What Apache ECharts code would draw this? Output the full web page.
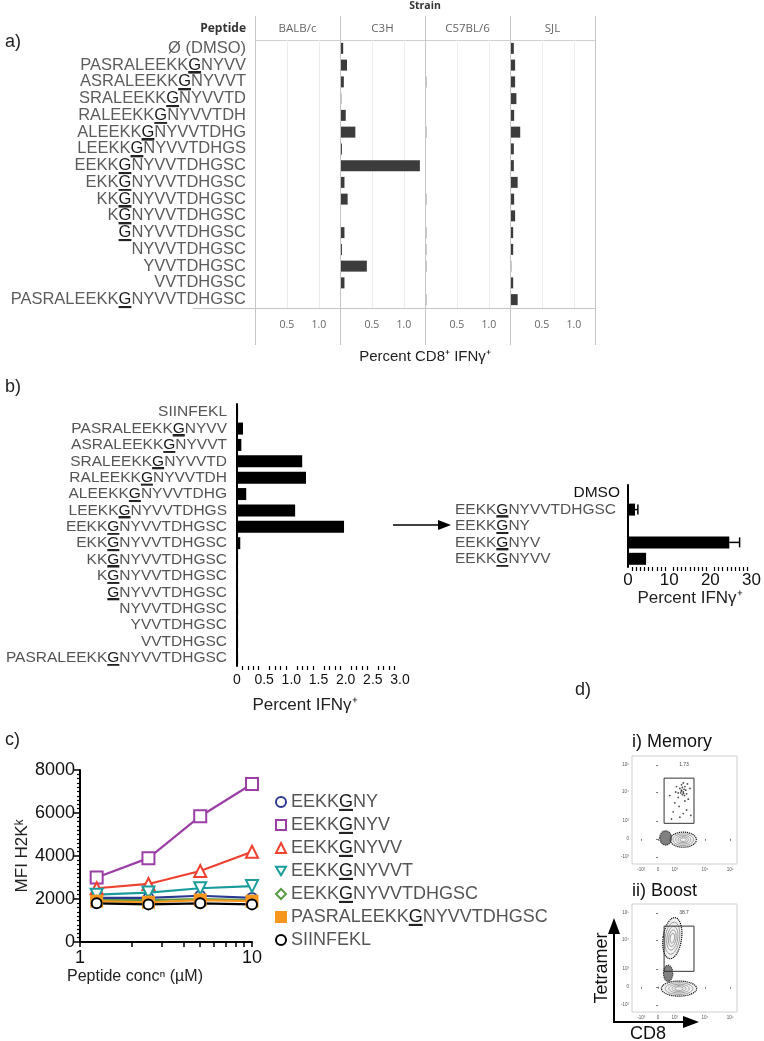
<!DOCTYPE html>
<html><head><meta charset="utf-8">
<script src="https://cdn.jsdelivr.net/npm/echarts@6/dist/echarts.min.js"></script>
<style>html,body{margin:0;padding:0;background:#fff}#c{width:764px;height:1041px}</style>
</head><body><div id="c"></div>
<script>
// ---------- Panel a data ----------
const peptidesA = ['Ø (DMSO)','PASRALEEKKGNYVV','ASRALEEKKGNYVVT','SRALEEKKGNYVVTD','RALEEKKGNYVVTDH','ALEEKKGNYVVTDHG','LEEKKGNYVVTDHGS','EEKKGNYVVTDHGSC','EKKGNYVVTDHGSC','KKGNYVVTDHGSC','KGNYVVTDHGSC','GNYVVTDHGSC','NYVVTDHGSC','YVVTDHGSC','VVTDHGSC','PASRALEEKKGNYVVTDHGSC'];
const strains = ['BALB/c','C3H','C57BL/6','SJL'];
const pctBALBc = [0,0,0,0,0,0,0,0,0,0,0,0,0,0,0,0];
const pctC3H   = [0.05,0.11,0.06,0.02,0.09,0.24,0.03,1.25,0.07,0.12,0.005,0.07,0.03,0.42,0.07,0];
const pctC57   = [0,0,0.02,0,0,0.02,0,0,0,0.02,0,0.02,0.02,0.02,0,0.02];
const pctSJL   = [0.06,0.08,0.08,0.10,0.065,0.16,0.06,0.06,0.12,0.065,0.08,0.05,0.05,0.02,0.05,0.12];
const aTickLabels = [0.5, 1.0];

// ---------- Panel b data ----------
const peptidesB = ['SIINFEKL','PASRALEEKKGNYVV','ASRALEEKKGNYVVT','SRALEEKKGNYVVTD','RALEEKKGNYVVTDH','ALEEKKGNYVVTDHG','LEEKKGNYVVTDHGS','EEKKGNYVVTDHGSC','EKKGNYVVTDHGSC','KKGNYVVTDHGSC','KGNYVVTDHGSC','GNYVVTDHGSC','NYVVTDHGSC','YVVTDHGSC','VVTDHGSC','PASRALEEKKGNYVVTDHGSC'];
const ifnB = [0.02,0.11,0.08,1.2,1.27,0.17,1.07,1.97,0.06,0.02,0.02,0.02,0.02,0.02,0.02,0.02];
const peptidesB2 = ['DMSO','EEKKGNYVVTDHGSC','EEKKGNY','EEKKGNYV','EEKKGNYVV'];
const ifnB2 = [0, 1.7, 0, 24.6, 4.4];
const ifnB2Err = [0, 0.7, 0, 2.5, 0];

// ---------- Panel c data ----------
const concentrations = [1.25, 2.5, 5, 10];
const lineNames = ['EEKKGNY','EEKKGNYV','EEKKGNYVV','EEKKGNYVVT','EEKKGNYVVTDHGSC','PASRALEEKKGNYVVTDHGSC','SIINFEKL'];
const mfiEEKKGNY = [2050, 2050, 2150, 2050];
const mfiEEKKGNYV = [3000, 3900, 5850, 7350];
const mfiEEKKGNYVV = [2500, 2700, 3300, 4200];
const mfiEEKKGNYVVT = [2200, 2300, 2500, 2600];
const mfiEEKKGNYVVTDHGSC = [1950, 1950, 2000, 1950];
const mfiPASRA = [1900, 1850, 1950, 1900];
const mfiSIINFEKL = [1800, 1750, 1800, 1750];

// ---------- Panel d data (display units of biexponential axes) ----------
const flowXTicks = [-1, 0, 1, 2.8, 4.3];
const flowYTicks = [-1, 0, 1, 2.6, 4.1];
const flowTickLabels = ['-10³','0','10³','10⁴','10⁵'];
const gateMemory = [[0.36, 0.86, 2.14, 3.37]];
const gateBoost = [[0.36, 0.86, 2.14, 3.37]];
const gateFreq = ['1.73', '38.7'];
// [cx, cy, rx, ry, rotationDeg, contourLevels, dense]
const popsMemory = [[1.5,-0.05,0.78,0.42,0,5,0],[0.45,0.05,0.35,0.4,0,1,1]];
const popsBoost = [[0.85,2.7,0.55,1.15,-8,5,0],[1.25,-0.1,1.05,0.42,0,5,0],[0.6,0.75,0.28,0.45,0,1,1]];
const eventsMemory = [[1.4,2.7],[1.5,2.6],[1.3,2.8],[1.6,2.9],[1.45,2.45],[1.2,2.3],[1.7,2.5],[1.55,2.75],[1.35,2.55],[1.65,2.7],[1.0,2.0],[1.8,2.2],[0.9,1.5],[1.3,1.2],[1.7,1.6],[1.1,2.9],[1.5,3.1],[0.7,2.4],[1.9,2.8],[1.25,1.8],[1.6,2.1],[1.4,3.0],[1.75,3.05],[1.05,2.6],[1.5,1.4],[0.8,1.1],[1.95,1.3],[1.2,2.55],[1.45,2.85],[1.58,2.4],[1.38,2.65],[1.52,2.52]];

const chart = echarts.init(document.getElementById('c'), null, {renderer:'canvas', width:764, height:1041});
const FONT = '"Liberation Sans", Arial, sans-serif';
const HFONT = '"Open Sans", sans-serif';
const ulGrad = new echarts.graphic.LinearGradient(0,0,0,1,[
  {offset:0,color:'rgba(0,0,0,0)'},{offset:0.86,color:'rgba(0,0,0,0)'},
  {offset:0.87,color:'#222'},{offset:1,color:'#222'}]);
function ul(s){ return s.replace(/G(?=N)/, '{u|G}'); }
function richU(size){ return { u:{fontSize:size, fontFamily:FONT, color:'#1a1a1a', backgroundColor:ulGrad} }; }

const grid = [], xAxis = [], yAxis = [], series = [], graphic = [];

// ---------- Panel a ----------
const aLeft = [255,340,425,510];
const aVals = [pctBALBc, pctC3H, pctC57, pctSJL];
for (let i=0;i<4;i++){
  grid.push({left:aLeft[i], top:40, width:85, height:268});
  xAxis.push({type:'value', gridIndex:i, min:0, max:1.33, interval:0.5,
    axisLine:{show:false}, axisTick:{show:false},
    splitLine:{show:true, lineStyle:{color:'#ececec'}},
    axisLabel:{formatter:v=>aTickLabels.includes(v)?v.toFixed(1):'', fontSize:10.5, color:'#666', fontFamily:HFONT, margin:12, showMaxLabel:false}});
  yAxis.push({type:'category', gridIndex:i, data:peptidesA, inverse:true,
    axisLine:{show:false}, axisTick:{show:false},
    axisLabel:{show:i===0, interval:0, formatter:ul, fontSize:16.5, color:'#5c5c5c', fontFamily:FONT, margin:9, rich:richU(16.5)}});
  series.push({type:'bar', xAxisIndex:i, yAxisIndex:i, data:aVals[i], barWidth:11, itemStyle:{color:'#3c3c3c'}, silent:true});
}
const sepX = [255,340,425,510,595];
sepX.forEach(x=>graphic.push({type:'line', shape:{x1:x+0.5,y1:16,x2:x+0.5,y2:345}, style:{stroke:'#c4c4c4', lineWidth:1}, z:10}));
graphic.push({type:'line', shape:{x1:255,y1:40.5,x2:595,y2:40.5}, style:{stroke:'#d0d0d0', lineWidth:1}});
graphic.push({type:'line', shape:{x1:193,y1:308.5,x2:595,y2:308.5}, style:{stroke:'#c4c4c4', lineWidth:1}});
strains.forEach((s,i)=>graphic.push({type:'text', x:aLeft[i]+42.5, y:29, style:{text:s, fill:'#666', font:'11.5px '+HFONT, align:'center', verticalAlign:'middle'}}));
graphic.push({type:'text', x:246, y:29, style:{text:'Peptide', fill:'#333', font:'bold 12px '+HFONT, align:'right', verticalAlign:'middle'}});
graphic.push({type:'text', x:425, y:6, style:{text:'Strain', fill:'#333', font:'bold 10.5px '+HFONT, align:'center', verticalAlign:'middle'}});
graphic.push({type:'text', x:425, y:357, style:{text:'Percent CD8⁺ IFNγ⁺', fill:'#222', font:'15px '+FONT, align:'center', verticalAlign:'middle'}});
graphic.push({type:'text', x:5, y:42, style:{text:'a)', fill:'#222', font:'18px '+FONT, align:'left', verticalAlign:'middle'}});

// ---------- Panel b left ----------
grid.push({left:237, top:404, width:163, height:262});
xAxis.push({type:'value', gridIndex:4, min:0, max:3, interval:0.5,
  axisLine:{lineStyle:{color:'#000', width:2}}, axisTick:{length:6, lineStyle:{color:'#000', width:1.5}},
  minorTick:{show:true, splitNumber:5, length:4, lineStyle:{color:'#000', width:1.2}},
  splitLine:{show:false},
  axisLabel:{formatter:v=>v===0?'0':v.toFixed(1), fontSize:14, color:'#111', fontFamily:FONT, margin:7}});
yAxis.push({type:'category', gridIndex:4, data:peptidesB, inverse:true,
  axisLine:{lineStyle:{color:'#000', width:2}}, axisTick:{length:6, alignWithLabel:true, interval:0, lineStyle:{color:'#000', width:2}},
  axisLabel:{interval:0, formatter:ul, fontSize:15.5, color:'#555', fontFamily:FONT, margin:10, rich:richU(15.5)}});
series.push({type:'bar', xAxisIndex:4, yAxisIndex:4, data:ifnB, barWidth:12, itemStyle:{color:'#000'}, silent:true});
graphic.push({type:'text', x:305, y:705, style:{text:'Percent IFNγ⁺', fill:'#222', font:'17px '+FONT, align:'center', verticalAlign:'middle'}});
graphic.push({type:'text', x:5, y:387, style:{text:'b)', fill:'#222', font:'18px '+FONT, align:'left', verticalAlign:'middle'}});
graphic.push({type:'line', shape:{x1:393,y1:525,x2:440,y2:525}, style:{stroke:'#000', lineWidth:1.5}});
graphic.push({type:'polygon', shape:{points:[[438,520],[451,525],[438,530]]}, style:{fill:'#000'}});

// ---------- Panel b right ----------
grid.push({left:628, top:485, width:127, height:82});
xAxis.push({type:'value', gridIndex:5, min:0, max:30, interval:10,
  axisLine:{lineStyle:{color:'#000', width:2}}, axisTick:{length:6, lineStyle:{color:'#000', width:1.5}},
  minorTick:{show:true, splitNumber:10, length:4, lineStyle:{color:'#000', width:1.2}},
  splitLine:{show:false},
  axisLabel:{fontSize:17, color:'#111', fontFamily:FONT, margin:5}});
const richB2 = richU(15.5); richB2.d = {width:165, align:'right', color:'#111', fontSize:15.5, fontFamily:FONT};
yAxis.push({type:'category', gridIndex:5, data:peptidesB2, inverse:true,
  axisLine:{lineStyle:{color:'#000', width:2}}, axisTick:{length:6, alignWithLabel:true, interval:0, lineStyle:{color:'#000', width:2}},
  axisLabel:{interval:0, align:'left', formatter:v=>v==='DMSO'?'{d|DMSO}':ul(v), fontSize:15.5, color:'#555', fontFamily:FONT, margin:173, rich:richB2}});
series.push({type:'bar', xAxisIndex:5, yAxisIndex:5, data:ifnB2, barWidth:12, itemStyle:{color:'#000'}, silent:true});
series.push({type:'custom', xAxisIndex:5, yAxisIndex:5, z:5, silent:true,
  data: ifnB2.map((v,i)=>[v, ifnB2Err[i], i]),
  encode:{x:0, y:2},
  renderItem:(p, api)=>{
    const v = api.value(0), e = api.value(1), idx = api.value(2);
    if (!(e>0)) return null;
    const p0 = api.coord([v, idx]), p1 = api.coord([v+e, idx]);
    return {type:'group', children:[
      {type:'line', shape:{x1:p0[0],y1:p0[1],x2:p1[0],y2:p1[1]}, style:{stroke:'#000', lineWidth:1.5}},
      {type:'line', shape:{x1:p1[0],y1:p1[1]-5,x2:p1[0],y2:p1[1]+5}, style:{stroke:'#000', lineWidth:1.5}}]};
  }});
graphic.push({type:'text', x:690, y:598, style:{text:'Percent IFNγ⁺', fill:'#222', font:'17px '+FONT, align:'center', verticalAlign:'middle'}});

// ---------- Panel c ----------
grid.push({left:80, top:770, width:172, height:172});
xAxis.push({type:'log', gridIndex:6, min:1, max:10, logBase:10,
  axisLine:{lineStyle:{color:'#000', width:2}},
  axisTick:{customValues:[1,2,3,4,5,6,7,8,9,10], length:5, lineStyle:{color:'#000', width:1.5}},
  splitLine:{show:false}, minorTick:{show:false},
  axisLabel:{customValues:[1,10], fontSize:18, color:'#111', fontFamily:FONT, margin:7}});
yAxis.push({type:'value', gridIndex:6, min:0, max:8000, interval:2000,
  axisLine:{show:true, lineStyle:{color:'#000', width:2}}, axisTick:{show:true, length:6, lineStyle:{color:'#000', width:1.5}},
  minorTick:{show:true, splitNumber:10, length:3, lineStyle:{color:'#000', width:1.2}},
  splitLine:{show:false},
  axisLabel:{formatter:v=>String(v), fontSize:18, color:'#111', fontFamily:FONT, margin:5}});
const lineColors = ['#2b3990','#9b3fa6','#ee4130','#1b9c9c','#5a9a45','#f5961e','#000000'];
const lineSymbols = ['circle','rect','triangle','triangle','diamond','rect','circle'];
const lineRot = [0,0,0,180,0,0,0];
const lineSizes = [10,12,12,12,9,11,10];
const lineData = [mfiEEKKGNY, mfiEEKKGNYV, mfiEEKKGNYVV, mfiEEKKGNYVVT, mfiEEKKGNYVVTDHGSC, mfiPASRA, mfiSIINFEKL];
lineNames.forEach((n,i)=>{
  series.push({type:'line', name:n, xAxisIndex:6, yAxisIndex:6,
    data: concentrations.map((x,k)=>[x, lineData[i][k]]),
    symbol:lineSymbols[i], symbolRotate:lineRot[i], symbolSize:lineSizes[i], showAllSymbol:true,
    lineStyle:{color:lineColors[i], width:2.2},
    itemStyle:{color: i===5 ? lineColors[i] : '#fff', borderColor:lineColors[i], borderWidth:2},
    emphasis:{disabled:true}, silent:true});
});
const legendIcons = ['circle','rect','triangle','path://M0,0 L10,0 L5,8.66 Z','diamond','rect','circle'];
graphic.push({type:'text', x:5, y:740, style:{text:'c)', fill:'#222', font:'18px '+FONT, align:'left', verticalAlign:'middle'}});
graphic.push({type:'text', x:135, y:977, style:{text:'Peptide concⁿ (µM)', fill:'#222', font:'16px '+FONT, align:'center', verticalAlign:'middle'}});
graphic.push({type:'text', x:22, y:856, rotation:Math.PI/2, style:{text:'MFI H2Kᵏ', fill:'#222', font:'17px '+FONT, align:'center', verticalAlign:'middle'}});

// ---------- Panel d ----------
const flowTops = [756, 904];
const gates = [gateMemory, gateBoost];
const pops = [popsMemory, popsBoost];
function flowFmt(ticks){ return v=>{ const k = ticks.findIndex(t=>Math.abs(t-v)<1e-6); return k>=0?flowTickLabels[k]:''; }; }
for (let j=0;j<2;j++){
  const gi = 7+j;
  grid.push({left:632, top:flowTops[j], width:105, height:108, show:true, borderColor:'#cfcfcf', borderWidth:1, backgroundColor:'#fff'});
  xAxis.push({type:'value', gridIndex:gi, min:-1.55, max:4.7, axisLine:{show:false}, splitLine:{show:false},
    axisTick:{show:true, customValues:flowXTicks, length:2, lineStyle:{color:'#555', width:0.8}},
    axisLabel:{customValues:flowXTicks, formatter:flowFmt(flowXTicks), fontSize:4.5, color:'#555', margin:3}});
  yAxis.push({type:'value', gridIndex:gi, min:-1.4, max:4.6, axisLine:{show:false}, splitLine:{show:false},
    axisTick:{show:true, customValues:flowYTicks, length:2, lineStyle:{color:'#555', width:0.8}},
    axisLabel:{customValues:flowYTicks, formatter:flowFmt(flowYTicks), fontSize:4.5, color:'#555', margin:3}});
  series.push({type:'custom', xAxisIndex:gi, yAxisIndex:gi, silent:true, data:pops[j], encode:{x:0,y:1},
    renderItem:(p, api)=>{
      const c = api.coord([api.value(0), api.value(1)]);
      const s = api.size([api.value(2), api.value(3)]);
      const rot = api.value(4)*Math.PI/180, lv = api.value(5), dense = api.value(6);
      const sc = [1,0.78,0.58,0.4,0.24];
      const ch = [];
      for (let k=0;k<lv;k++){
        ch.push({type:'ellipse', shape:{cx:c[0], cy:c[1], rx:s[0]*sc[k], ry:s[1]*sc[k]}, rotation:rot, originX:c[0], originY:c[1],
          style:{fill: k===0 ? (dense?'#555':'#f1f1f1') : 'none', stroke: k===0 ? '#111' : '#8c8c8c', lineWidth: k===0 ? 1.2 : 0.8, lineDash: k===0 ? [1.2,0.8] : null, opacity: dense?0.75:1}});
      }
      return {type:'group', children:ch};
    }});
  series.push({type:'custom', xAxisIndex:gi, yAxisIndex:gi, silent:true, z:4, data:gates[j], encode:{x:[0,2], y:[1,3]},
    renderItem:(p, api)=>{
      const a = api.coord([api.value(0), api.value(3)]), b = api.coord([api.value(2), api.value(1)]);
      return {type:'rect', shape:{x:a[0], y:a[1], width:b[0]-a[0], height:b[1]-a[1]}, style:{fill:'none', stroke:'#333', lineWidth:1}};
    }});
  graphic.push({type:'text', x:684, y:flowTops[j]+9, style:{text:gateFreq[j], fill:'#444', font:'5px '+FONT, align:'center', verticalAlign:'middle'}});
}
series.push({type:'scatter', xAxisIndex:7, yAxisIndex:7, data:eventsMemory, symbolSize:1.8, itemStyle:{color:'#222'}, silent:true});
graphic.push({type:'text', x:575, y:690, style:{text:'d)', fill:'#222', font:'18px '+FONT, align:'left', verticalAlign:'middle'}});
graphic.push({type:'text', x:632, y:742, style:{text:'i) Memory', fill:'#111', font:'18px '+FONT, align:'left', verticalAlign:'middle'}});
graphic.push({type:'text', x:632, y:891, style:{text:'ii) Boost', fill:'#111', font:'18px '+FONT, align:'left', verticalAlign:'middle'}});
graphic.push({type:'line', shape:{x1:614,y1:1022,x2:614,y2:932}, style:{stroke:'#000', lineWidth:2}});
graphic.push({type:'polygon', shape:{points:[[608,934],[614,918],[620,934]]}, style:{fill:'#000'}});
graphic.push({type:'line', shape:{x1:613,y1:1022,x2:685,y2:1022}, style:{stroke:'#000', lineWidth:2}});
graphic.push({type:'polygon', shape:{points:[[683,1016],[699,1022],[683,1028]]}, style:{fill:'#000'}});
graphic.push({type:'text', x:602, y:968, rotation:Math.PI/2, style:{text:'Tetramer', fill:'#111', font:'18px '+FONT, align:'center', verticalAlign:'middle'}});
graphic.push({type:'text', x:648, y:1034, style:{text:'CD8', fill:'#111', font:'18px '+FONT, align:'center', verticalAlign:'middle'}});

chart.setOption({
  animation:false,
  backgroundColor:'#fff',
  grid, xAxis, yAxis, series,
  legend:{show:true, orient:'vertical', left:270, top:788, itemGap:5, itemWidth:10, itemHeight:10, selectedMode:false,
    data: lineNames.map((n,i)=>({name:n, icon:legendIcons[i], itemStyle:{color: i===5 ? lineColors[i] : '#fff', borderColor:lineColors[i], borderWidth:2}})),
    formatter: ul,
    textStyle:{fontSize:18, color:'#555', fontFamily:FONT, rich:richU(18)}},
  graphic
});
</script></body></html>
